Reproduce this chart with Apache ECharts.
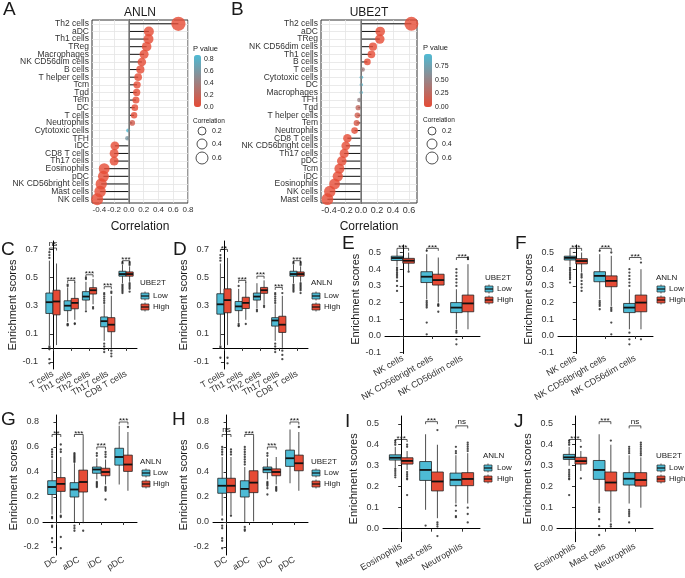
<!DOCTYPE html>
<html>
<head>
<meta charset="utf-8">
<script src="https://cdn.jsdelivr.net/npm/echarts@6/dist/echarts.min.js"></script>
<style>
  html, body { margin: 0; padding: 0; background: #fff; }
  #main { width: 685px; height: 578px; }
</style>
</head>
<body>
<div id="main"></div>
<script>
// ---- panel A / B : correlation lollipops ----
var aCats = ['Th2 cells', 'aDC', 'Th1 cells', 'TReg', 'Macrophages', 'NK CD56dim cells', 'B cells', 'T helper cells',
  'Tcm', 'Tgd', 'Tem', 'DC', 'T cells', 'Neutrophils', 'Cytotoxic cells', 'TFH', 'iDC', 'CD8 T cells',
  'Th17 cells', 'Eosinophils', 'pDC', 'NK CD56bright cells', 'Mast cells', 'NK cells'];
var aCor = [0.67, 0.27, 0.265, 0.24, 0.205, 0.175, 0.155, 0.125, 0.11, 0.105, 0.095, 0.08, 0.07, 0.045,
  -0.01, -0.02, -0.19, -0.2, -0.2, -0.335, -0.345, -0.375, -0.39, -0.43];
var aP = [0, 0, 0, 0, 0, 0, 0, 0, 0, 0, 0, 0, 0.01, 0.12, 0.85, 0.6, 0, 0, 0, 0, 0, 0, 0, 0];

var bCats = ['Th2 cells', 'aDC', 'TReg', 'NK CD56dim cells', 'Th1 cells', 'B cells', 'T cells', 'Cytotoxic cells',
  'DC', 'Macrophages', 'TFH', 'Tgd', 'T helper cells', 'Tem', 'Neutrophils', 'CD8 T cells',
  'NK CD56bright cells', 'Th17 cells', 'pDC', 'Tcm', 'iDC', 'Eosinophils', 'NK cells', 'Mast cells'];
var bCor = [0.63, 0.24, 0.235, 0.15, 0.13, 0.08, 0.02, 0.005, 0.004, 0.003, -0.02, -0.035, -0.045, -0.055,
  -0.08, -0.17, -0.19, -0.21, -0.24, -0.27, -0.29, -0.33, -0.39, -0.42];
var bP = [0, 0, 0, 0, 0, 0, 0.45, 0.95, 0.93, 0.92, 0.5, 0.25, 0.15, 0.1, 0.02, 0, 0, 0, 0, 0, 0, 0, 0, 0];

var corTicksA = [-0.4, -0.2, 0, 0.2, 0.4, 0.6, 0.8];
var corTicksB = [-0.4, -0.2, 0, 0.2, 0.4, 0.6];
var pTicksA = [0, 0.2, 0.4, 0.6, 0.8];
var pTicksB = [0, 0.25, 0.5, 0.75];
var sizeTicks = [0.2, 0.4, 0.6];

// ---- box panels: [min, q1, median, q3, max] per category ----
var tCats = ['T cells', 'Th1 cells', 'Th2 cells', 'Th17 cells', 'CD8 T cells'];
var nkCats = ['NK cells', 'NK CD56bright cells', 'NK CD56dim cells'];
var dcCats = ['DC', 'aDC', 'iDC', 'pDC'];
var myCats = ['Eosinophils', 'Mast cells', 'Neutrophils'];

var cLow = [[0.02, 0.245, 0.325, 0.39, 0.62], [0.185, 0.265, 0.30, 0.335, 0.43], [0.27, 0.34, 0.365, 0.40, 0.47], [0.05, 0.15, 0.19, 0.22, 0.31], [0.46, 0.51, 0.525, 0.545, 0.59]];
var cHigh = [[0.02, 0.235, 0.33, 0.41, 0.6], [0.2, 0.278, 0.32, 0.352, 0.47], [0.31, 0.383, 0.41, 0.428, 0.49], [0.0, 0.115, 0.165, 0.215, 0.37], [0.47, 0.51, 0.525, 0.54, 0.58]];
var cLowOut = [[0.64, 0.66, 0.68, 0.01, 0.0, -0.01, -0.08, -0.11], [0.44, 0.45, 0.17, 0.165, 0.16], [0.49, 0.5, 0.26], [0.32, 0.335, 0.35, 0.365, 0.38, 0.39, 0.03, 0.01, -0.01, -0.03], [0.6, 0.61, 0.45, 0.44, 0.43, 0.42, 0.41, 0.40, 0.39]];
var cHighOut = [[], [0.175, 0.17], [0.29, 0.28], [0.39, 0.4, -0.02, -0.04, -0.06], [0.59, 0.6, 0.61, 0.46, 0.45, 0.44, 0.43, 0.42, 0.40]];
var cSig = ['ns', '***', '***', '***', '***'];
var cSigY = [0.71, 0.48, 0.52, 0.435, 0.62];

var dLow = [[0.02, 0.24, 0.31, 0.385, 0.6], [0.18, 0.265, 0.295, 0.33, 0.42], [0.28, 0.34, 0.365, 0.39, 0.46], [0.05, 0.155, 0.195, 0.215, 0.31], [0.46, 0.51, 0.525, 0.545, 0.59]];
var dHigh = [[0.02, 0.25, 0.34, 0.42, 0.64], [0.2, 0.28, 0.32, 0.36, 0.47], [0.31, 0.388, 0.41, 0.43, 0.48], [0.0, 0.11, 0.165, 0.225, 0.37], [0.47, 0.51, 0.525, 0.54, 0.58]];
var dLowOut = [[0.62, 0.64, 0.66, 0.01, 0.0, -0.07], [0.44, 0.17, 0.16, 0.155], [0.27, 0.26], [0.32, 0.335, 0.35, 0.365, 0.38, 0.39, 0.03, 0.01, -0.01, -0.03], [0.6, 0.61, 0.45, 0.44, 0.43, 0.42, 0.41, 0.40]];
var dHighOut = [[-0.07, -0.11], [0.17], [0.3, 0.29], [0.39, -0.02, -0.05, -0.08], [0.59, 0.6, 0.61, 0.46, 0.45, 0.44, 0.43, 0.42, 0.41, 0.39]];
var dSig = ['**', '***', '***', '***', '***'];
var dSigY = [0.70, 0.48, 0.51, 0.43, 0.62];

var eLow = [[0.42, 0.452, 0.467, 0.478, 0.51], [0.22, 0.32, 0.355, 0.385, 0.49], [0.04, 0.14, 0.17, 0.2, 0.28]];
var eHigh = [[0.39, 0.436, 0.451, 0.465, 0.5], [0.2, 0.305, 0.335, 0.37, 0.47], [0.04, 0.145, 0.195, 0.245, 0.43]];
var eLowOut = [[0.41, 0.40, 0.39, 0.38, 0.37, 0.36, 0.35, 0.33, 0.30, 0.27], [0.51, 0.21, 0.2, 0.19, 0.18, 0.17, 0.08, 0.01], [0.3, 0.32, 0.34, 0.36, 0.38, 0.40, 0.03, 0.02, -0.02, -0.05]];
var eHighOut = [[0.385], [0.19, 0.185, 0.18, 0.145], [0.46, 0.47]];
var eSig = ['***', '***', '***'];
var eSigY = [0.525, 0.525, 0.47];

var fLow = [[0.42, 0.455, 0.468, 0.478, 0.51], [0.22, 0.325, 0.36, 0.385, 0.49], [0.04, 0.14, 0.17, 0.195, 0.28]];
var fHigh = [[0.38, 0.432, 0.449, 0.463, 0.5], [0.18, 0.295, 0.33, 0.36, 0.48], [0.04, 0.145, 0.2, 0.245, 0.4]];
var fLowOut = [[0.41, 0.40, 0.39, 0.38, 0.37, 0.36, 0.35, 0.34, 0.32], [0.51, 0.21, 0.2, 0.19, 0.18, 0.16], [0.3, 0.32, 0.34, 0.36, 0.38, 0.40, 0.02, -0.02, -0.05]];
var fHighOut = [[0.37, 0.36, 0.35, 0.33, 0.31, 0.29, 0.27], [0.5, 0.17, 0.16, 0.15, 0.08, 0.01], [0.44, -0.02]];
var fSig = ['***', '***', '***'];
var fSigY = [0.525, 0.525, 0.47];

var gLow = [[0.06, 0.22, 0.28, 0.33, 0.5], [0.0, 0.2, 0.26, 0.315, 0.47], [0.34, 0.39, 0.42, 0.44, 0.51], [0.3, 0.455, 0.52, 0.59, 0.77]];
var gHigh = [[0.07, 0.245, 0.305, 0.355, 0.52], [-0.01, 0.24, 0.32, 0.415, 0.68], [0.3, 0.37, 0.4, 0.43, 0.5], [0.25, 0.405, 0.46, 0.535, 0.72]];
var gLowOut = [[0.52, 0.54, 0.56, 0.58, 0.04, 0.03, -0.03, -0.04, -0.13, -0.16], [0.48, 0.49, 0.5, 0.51, 0.52, 0.53, 0.54, 0.55, -0.03, -0.05, -0.07], [0.55, 0.53, 0.32, 0.31, 0.3, 0.29, 0.28], []];
var gHighOut = [[0.56, 0.58, 0.62, 0.05, 0.04, -0.12, -0.21], [-0.07], [0.52, 0.54, 0.56, 0.28, 0.27, 0.26, 0.25, 0.18], [0.76]];
var gSig = ['**', '***', '***', '***'];
var gSigY = [0.70, 0.70, 0.6, 0.8];

var hLow = [[0.05, 0.23, 0.29, 0.35, 0.52], [0.0, 0.2, 0.265, 0.33, 0.44], [0.34, 0.395, 0.42, 0.44, 0.51], [0.31, 0.445, 0.51, 0.575, 0.74]];
var hHigh = [[0.06, 0.235, 0.29, 0.35, 0.52], [0.005, 0.235, 0.315, 0.41, 0.68], [0.3, 0.37, 0.4, 0.425, 0.52], [0.25, 0.41, 0.47, 0.535, 0.72]];
var hLowOut = [[0.54, 0.56, 0.58, 0.6, 0.02, -0.03, -0.05, -0.13, -0.15, -0.21], [0.46, 0.48, 0.5, 0.52, 0.54, 0.56, 0.58, 0.6, -0.04, -0.06, -0.07], [0.55, 0.53, 0.32, 0.31, 0.3, 0.29, 0.27, 0.22], []];
var hHighOut = [[0.54, 0.56, 0.58, 0.05], [], [0.28, 0.27, 0.26, 0.25], [0.76]];
var hSig = ['ns', '***', '***', '***'];
var hSigY = [0.70, 0.70, 0.6, 0.8];

var iLow = [[0.29, 0.327, 0.338, 0.352, 0.39], [0.09, 0.23, 0.28, 0.32, 0.45], [0.12, 0.205, 0.233, 0.265, 0.35]];
var iHigh = [[0.28, 0.308, 0.323, 0.338, 0.37], [0.05, 0.18, 0.225, 0.27, 0.4], [0.12, 0.205, 0.237, 0.267, 0.36]];
var iLowOut = [[0.4, 0.41, 0.42, 0.285, 0.275, 0.265, 0.255, 0.245], [0.015], [0.36, 0.37, 0.39, 0.11, 0.085, 0.06, 0.055]];
var iHighOut = [[0.39, 0.4, 0.27, 0.26, 0.25, 0.24, 0.235, 0.16], [0.47, 0.03, 0.02, 0.01, -0.035], [0.37, 0.38, 0.39, 0.4, 0.41, 0.1, 0.07, 0.03]];
var iSig = ['***', '***', 'ns'];
var iSigY = [0.425, 0.51, 0.49];

var jLow = [[0.3, 0.33, 0.34, 0.354, 0.39], [0.12, 0.235, 0.28, 0.325, 0.45], [0.12, 0.208, 0.238, 0.267, 0.35]];
var jHigh = [[0.275, 0.308, 0.322, 0.34, 0.37], [0.03, 0.18, 0.22, 0.27, 0.4], [0.1, 0.203, 0.232, 0.267, 0.34]];
var jLowOut = [[0.4, 0.41, 0.42, 0.28, 0.27, 0.26, 0.25, 0.24, 0.235, 0.16], [0.1, 0.09, 0.08, 0.045, 0.012, -0.03], [0.36, 0.37, 0.38, 0.39, 0.09, 0.08, 0.07, 0.06, 0.03]];
var jHighOut = [[0.39, 0.24], [0.42, 0.02, 0.01], [0.35, 0.36, 0.37, 0.38, 0.39, 0.4, 0.41]];
var jSig = ['***', '***', 'ns'];
var jSigY = [0.425, 0.51, 0.49];

var ticksC = [-0.1, 0.1, 0.3, 0.5, 0.7];
var ticksE = [-0.1, 0, 0.1, 0.2, 0.3, 0.4, 0.5];
var ticksG = [-0.2, 0, 0.2, 0.4, 0.6, 0.8];
var ticksI = [0, 0.1, 0.2, 0.3, 0.4, 0.5];

// ---- drawing ----
var FONT = '"Liberation Sans", Arial, Helvetica, sans-serif';
var TXT = '#1a1a1a';
var BLUE = '#4DBBD5', RED = '#E64B35';
var OFF = 0.195, BOXW = 0.39;

var grid = [], xAxis = [], yAxis = [], series = [], graphic = [], visualMap = [];

function txt(x, y, s, size, align, valign) {
  return { type: 'text', x: x, y: y, silent: true,
    style: { text: s, fontSize: size, fontFamily: FONT, fill: TXT,
      align: align || 'left', verticalAlign: valign || 'middle' } };
}

function dotSize(r) { return 2.6 + 14.3 * Math.sqrt(Math.abs(r)); }

function lolliPanel(p) {
  var gi = grid.length;
  grid.push({ left: p.left, top: p.top, width: p.width, height: p.height, show: true,
    borderColor: '#333', borderWidth: 1, backgroundColor: '#fff' });
  xAxis.push({ gridIndex: gi, type: 'value', min: p.xmin, max: p.xmax, interval: 0.1,
    name: 'Correlation', nameLocation: 'middle', nameGap: 18,
    nameTextStyle: { fontSize: 12, color: TXT, fontFamily: FONT },
    axisLine: { lineStyle: { color: '#333' } },
    axisTick: { customValues: p.ticks, length: 2.5, lineStyle: { color: '#333' } },
    axisLabel: { customValues: p.ticks, fontSize: p.tickFont, margin: 3, color: '#333', fontFamily: FONT,
      showMinLabel: true, showMaxLabel: true,
      formatter: function (v) { return v.toFixed(1); } },
    splitLine: { show: true, lineStyle: { color: '#e4e4e4', width: 0.8 } } });
  yAxis.push({ gridIndex: gi, type: 'category', data: p.cats, inverse: true,
    axisLine: { lineStyle: { color: '#333' } },
    axisTick: { alignWithLabel: true, length: 2.5, lineStyle: { color: '#333' } },
    axisLabel: { interval: 0, fontSize: 8.5, margin: 3, color: '#333', fontFamily: FONT },
    splitLine: { show: true, alignWithLabel: true, interval: 0, lineStyle: { color: '#e4e4e4', width: 0.8 } } });
  series.push({ type: 'bar', xAxisIndex: gi, yAxisIndex: gi, data: p.cor, barWidth: 1, silent: true, z: 2,
    itemStyle: { color: '#111' },
    markLine: { silent: true, symbol: 'none', label: { show: false },
      lineStyle: { color: '#888', width: 1.5, type: 'solid' }, data: [{ xAxis: 0 }] } });
  var si = series.length;
  series.push({ type: 'scatter', xAxisIndex: gi, yAxisIndex: gi, silent: true, z: 3,
    data: p.cor.map(function (r, i) { return [r, i, p.pv[i]]; }),
    symbolSize: function (v) { return dotSize(v[0]); } });
  visualMap.push({ type: 'continuous', seriesIndex: si, dimension: 2, min: 0, max: p.pmax,
    inRange: { color: [RED, BLUE] }, calculable: false, hoverLink: false, orient: 'vertical',
    left: p.barX, top: p.barY, itemWidth: p.barW, itemHeight: p.barH, padding: 0, text: null });
  graphic.push(txt(p.barX - 1, p.barY - 6, 'P value', 7.5));
  p.pTicks.forEach(function (v) {
    graphic.push(txt(p.barX + p.barW + 3, p.barY + p.barH * (1 - v / p.pmax), v.toFixed(p.pDigits), 7));
  });
  graphic.push(txt(p.barX - 1, p.barY + 66, 'Correlation', 6.5));
  var ys = [131, 144, 158];
  sizeTicks.forEach(function (v, k) {
    graphic.push({ type: 'circle', silent: true, shape: { cx: p.barX + 8, cy: ys[k], r: 4 + k },
      style: { fill: 'none', stroke: '#222', lineWidth: 0.8 } });
    graphic.push(txt(p.barX + 18, ys[k], v.toFixed(1), 7));
  });
  graphic.push(txt(p.left + p.width / 2, 13, p.title, 12, 'center'));
}

function renderBox(params, api) {
  var x = api.value(0);
  var w = api.size([BOXW, 0])[0];
  var lo = api.coord([x, api.value(1)]), q1 = api.coord([x, api.value(2)]);
  var md = api.coord([x, api.value(3)]), q3 = api.coord([x, api.value(4)]);
  var hi = api.coord([x, api.value(5)]);
  return { type: 'group', children: [
    { type: 'line', shape: { x1: lo[0], y1: lo[1], x2: hi[0], y2: hi[1] }, style: { stroke: '#222', lineWidth: 0.8 } },
    { type: 'rect', shape: { x: q3[0] - w / 2, y: q3[1], width: w, height: q1[1] - q3[1] },
      style: { fill: api.visual('color'), stroke: '#222', lineWidth: 0.8 } },
    { type: 'line', shape: { x1: md[0] - w / 2, y1: md[1], x2: md[0] + w / 2, y2: md[1] }, style: { stroke: '#111', lineWidth: 1.8 } }
  ] };
}

function sigRender(labels) {
  return function (params, api) {
    var i = api.value(0), y = api.value(1);
    var l = api.coord([i - OFF, y]), r = api.coord([i + OFF, y]);
    var s = labels[params.dataIndex];
    var dy = s === 'ns' ? -0.5 : 3;
    return { type: 'group', children: [
      { type: 'polyline', shape: { points: [[l[0], l[1] + 2.5], [l[0], l[1]], [r[0], r[1]], [r[0], r[1] + 2.5]] },
        style: { stroke: '#111', lineWidth: 0.7, fill: 'none' } },
      { type: 'text', x: (l[0] + r[0]) / 2, y: l[1] + dy,
        style: { text: s, fontSize: 8, fontFamily: FONT, fill: '#111', align: 'center', verticalAlign: 'bottom' } }
    ] };
  };
}

function legendKey(x, y, color) {
  return { type: 'group', silent: true, children: [
    { type: 'line', shape: { x1: x, y1: y - 4.5, x2: x, y2: y + 4.5 }, style: { stroke: '#222', lineWidth: 0.7 } },
    { type: 'rect', shape: { x: x - 4, y: y - 3, width: 8, height: 6 }, style: { fill: color, stroke: '#222', lineWidth: 0.7 } },
    { type: 'line', shape: { x1: x - 4, y1: y, x2: x + 4, y2: y }, style: { stroke: '#111', lineWidth: 1.2 } }
  ] };
}

function boxPanel(p) {
  var gi = grid.length, n = p.cats.length;
  var idx = p.cats.map(function (_, i) { return i; });
  grid.push({ left: p.left, top: p.top, width: p.width, height: p.height });
  xAxis.push({ gridIndex: gi, type: 'value', min: -0.6, max: n - 0.4, splitLine: { show: false },
    axisLine: { lineStyle: { color: '#000', width: 1 } },
    axisTick: { customValues: idx, length: 3, lineStyle: { color: '#333' } },
    axisLabel: { customValues: idx, rotate: 30, margin: 4, fontSize: 9, color: '#333', fontFamily: FONT,
      showMinLabel: true, showMaxLabel: true,
      formatter: function (v) { return p.cats[Math.round(v)]; } } });
  yAxis.push({ gridIndex: gi, type: 'value', min: p.ymin, max: p.ymax, splitLine: { show: false },
    name: 'Enrichment scores', nameLocation: 'middle', nameGap: 24,
    nameTextStyle: { fontSize: 11, color: TXT, fontFamily: FONT },
    axisLine: { show: true, lineStyle: { color: '#000', width: 1 } },
    axisTick: { show: true, customValues: p.ticks, length: 3, lineStyle: { color: '#333' } },
    axisLabel: { customValues: p.ticks, margin: 4, fontSize: 9, color: '#333', fontFamily: FONT,
      showMinLabel: true, showMaxLabel: true,
      formatter: function (v) { return v.toFixed(1); } } });
  [[p.low, p.lowOut, -OFF, BLUE], [p.high, p.highOut, OFF, RED]].forEach(function (g) {
    var pts = [];
    g[1].forEach(function (arr, i) { arr.forEach(function (v) { pts.push([i + g[2], v]); }); });
    series.push({ type: 'scatter', xAxisIndex: gi, yAxisIndex: gi, data: pts, symbolSize: 2.3, silent: true, z: 2,
      itemStyle: { color: '#2b2b2b', opacity: 0.85 } });
    series.push({ type: 'custom', xAxisIndex: gi, yAxisIndex: gi, renderItem: renderBox, silent: true, z: 3,
      itemStyle: { color: g[3] },
      data: g[0].map(function (s, i) { return [i + g[2]].concat(s); }) });
  });
  series.push({ type: 'custom', xAxisIndex: gi, yAxisIndex: gi, silent: true, z: 4, renderItem: sigRender(p.sig),
    data: p.sigY.map(function (y, i) { return [i, y]; }) });
  var L = p.leg;
  graphic.push(txt(L[0], L[1], p.gene, 8));
  graphic.push(legendKey(L[2], L[3], BLUE));
  graphic.push(legendKey(L[2], L[4], RED));
  graphic.push(txt(L[5], L[3], 'Low', 8));
  graphic.push(txt(L[5], L[4], 'High', 8));
}

lolliPanel({ cats: aCats, cor: aCor, pv: aP, title: 'ANLN', left: 92, top: 20, width: 96, height: 183,
  xmin: -0.5, xmax: 0.8, ticks: corTicksA, tickFont: 8, pmax: 0.87, pTicks: pTicksA, pDigits: 1,
  barX: 194, barY: 55, barW: 7, barH: 52 });
lolliPanel({ cats: bCats, cor: bCor, pv: bP, title: 'UBE2T', left: 321, top: 20, width: 96, height: 183,
  xmin: -0.5, xmax: 0.7, ticks: corTicksB, tickFont: 9, pmax: 0.98, pTicks: pTicksB, pDigits: 2,
  barX: 424, barY: 54, barW: 8, barH: 53 });

boxPanel({ cats: tCats, low: cLow, high: cHigh, lowOut: cLowOut, highOut: cHighOut, sig: cSig, sigY: cSigY, gene: 'UBE2T',
  left: 42, top: 241, width: 95, height: 128, ymin: -0.15, ymax: 0.76, ticks: ticksC, leg: [140, 283, 145, 296, 307, 153] });
boxPanel({ cats: tCats, low: dLow, high: dHigh, lowOut: dLowOut, highOut: dHighOut, sig: dSig, sigY: dSigY, gene: 'ANLN',
  left: 213, top: 241, width: 95, height: 128, ymin: -0.15, ymax: 0.76, ticks: ticksC, leg: [311, 283, 316, 296, 307, 324] });
boxPanel({ cats: nkCats, low: eLow, high: eHigh, lowOut: eLowOut, highOut: eHighOut, sig: eSig, sigY: eSigY, gene: 'UBE2T',
  left: 385, top: 245, width: 95, height: 108.5, ymin: -0.105, ymax: 0.545, ticks: ticksE, leg: [485, 278, 489, 289, 300, 497] });
boxPanel({ cats: nkCats, low: fLow, high: fHigh, lowOut: fLowOut, highOut: fHighOut, sig: fSig, sigY: fSigY, gene: 'ANLN',
  left: 558, top: 245, width: 95, height: 108.5, ymin: -0.105, ymax: 0.545, ticks: ticksE, leg: [656, 278, 661, 289, 300, 669] });
boxPanel({ cats: dcCats, low: gLow, high: gHigh, lowOut: gLowOut, highOut: gHighOut, sig: gSig, sigY: gSigY, gene: 'ANLN',
  left: 43, top: 415, width: 94, height: 140, ymin: -0.264, ymax: 0.856, ticks: ticksG, leg: [140, 462, 146, 473, 484, 153] });
boxPanel({ cats: dcCats, low: hLow, high: hHigh, lowOut: hLowOut, highOut: hHighOut, sig: hSig, sigY: hSigY, gene: 'UBE2T',
  left: 213, top: 415, width: 95, height: 140, ymin: -0.264, ymax: 0.856, ticks: ticksG, leg: [311, 462, 316, 473, 484, 324] });
boxPanel({ cats: myCats, low: iLow, high: iHigh, lowOut: iLowOut, highOut: iHighOut, sig: iSig, sigY: iSigY, gene: 'ANLN',
  left: 383, top: 416, width: 97, height: 125.7, ymin: -0.062, ymax: 0.537, ticks: ticksI, leg: [483, 456, 488, 468, 479, 497] });
boxPanel({ cats: myCats, low: jLow, high: jHigh, lowOut: jLowOut, highOut: jHighOut, sig: jSig, sigY: jSigY, gene: 'UBE2T',
  left: 557, top: 416, width: 96, height: 125.7, ymin: -0.062, ymax: 0.537, ticks: ticksI, leg: [656, 456, 661, 468, 479, 669] });

// panel letters
[['A', 3, 0], ['B', 231, 0], ['C', 1, 240], ['D', 173, 240], ['E', 342, 234], ['F', 515, 234],
 ['G', 1, 410], ['H', 172, 410], ['I', 345, 412], ['J', 514, 412]].forEach(function (l) {
  graphic.push(txt(l[1], l[2], l[0], 19, 'left', 'top'));
});

var chart = echarts.init(document.getElementById('main'));
chart.setOption({
  backgroundColor: '#fff',
  animation: false,
  textStyle: { fontFamily: FONT },
  grid: grid,
  xAxis: xAxis,
  yAxis: yAxis,
  visualMap: visualMap,
  series: series,
  graphic: graphic
});
</script>
</body>
</html>
